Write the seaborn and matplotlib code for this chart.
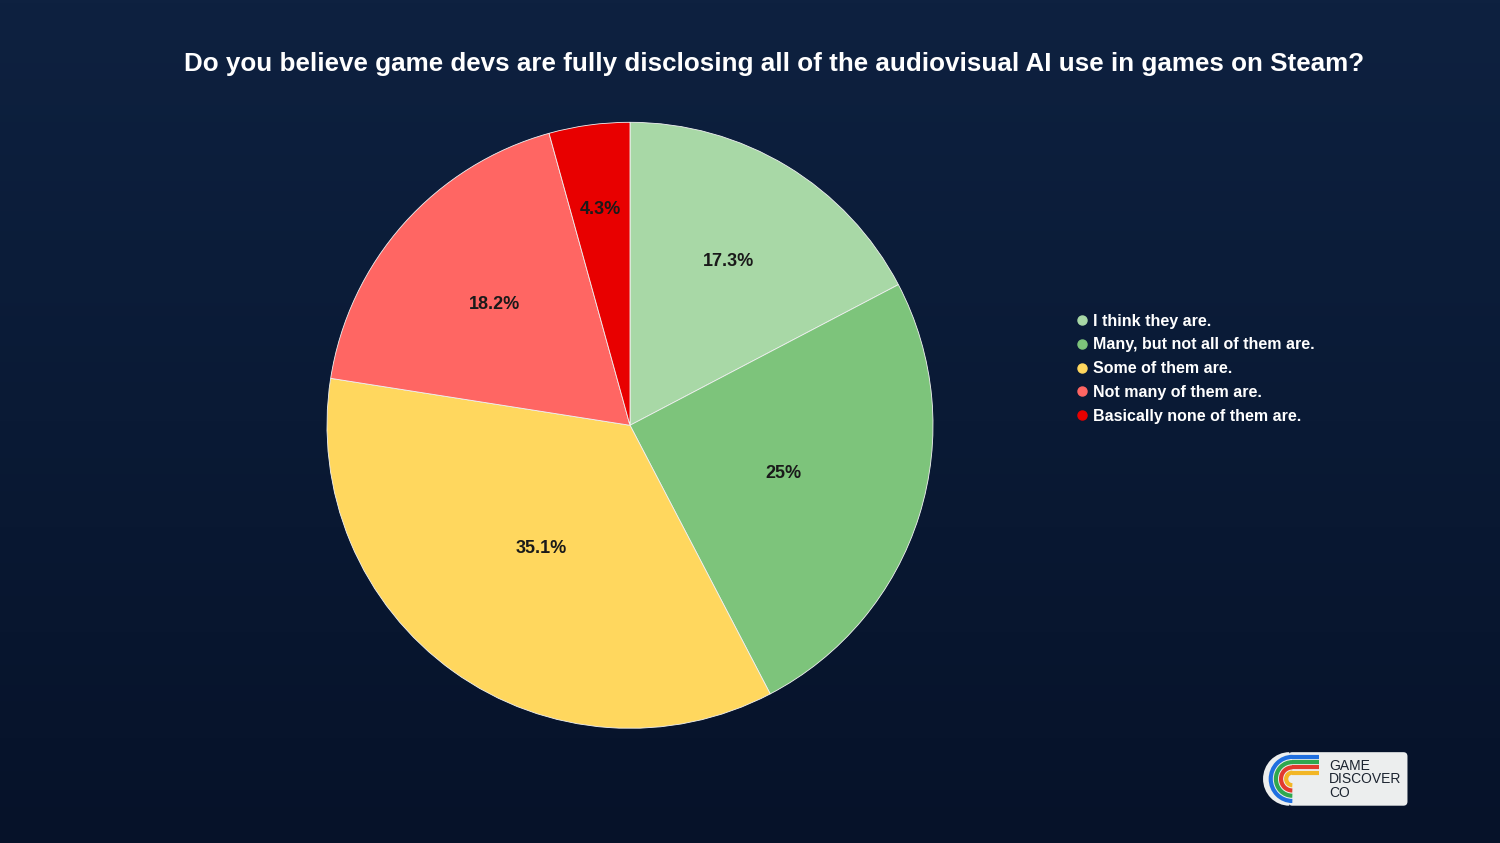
import numpy as np
import matplotlib
matplotlib.use('Agg')
import matplotlib.pyplot as plt
import seaborn as sns
from matplotlib.lines import Line2D
from matplotlib.patches import FancyBboxPatch, Arc, Wedge

sns.set_theme(style='white')
plt.rcParams['font.family'] = ['Liberation Sans', 'DejaVu Sans']

# data
answers = ['I think they are.', 'Many, but not all of them are.', 'Some of them are.',
           'Not many of them are.', 'Basically none of them are.']
shares = [17.3, 25, 35.1, 18.2, 4.3]
colors = ['#a8d8a6', '#7dc47b', '#ffd75e', '#ff6663', '#e80000']
label_dist = [0.63, 0.53, 0.5, 0.6, 0.72]
title = 'Do you believe game devs are fully disclosing all of the audiovisual AI use in games on Steam?'

fig = plt.figure(figsize=(15, 8.43), dpi=100)

# background gradient
bg = fig.add_axes([0, 0, 1, 1])
grad = np.linspace(0, 1, 256).reshape(-1, 1)
cmap = matplotlib.colors.LinearSegmentedColormap.from_list('bg', ['#0e2140', '#0a1a35', '#061229'])
bg.imshow(grad, aspect='auto', cmap=cmap, extent=[0, 1, 0, 1])
bg.set_axis_off()

fig.text(0.516, 0.924, title, color='white', fontsize=18.7, fontweight='bold',
         ha='center', va='center')

ax = fig.add_axes([0.218, 0.136, 0.404, 0.719])
wedges, _ = ax.pie(shares, colors=colors, startangle=90, counterclock=False,
                   wedgeprops=dict(edgecolor='#f2f2f2', linewidth=0.6))
for w, v, d in zip(wedges, shares, label_dist):
    ang = np.deg2rad((w.theta1 + w.theta2) / 2)
    txt = f'{v:g}%'
    ax.text(d * np.cos(ang), d * np.sin(ang), txt, ha='center', va='center',
            fontsize=13, fontweight='bold', color='#1a1a1a')
ax.set_xlim(-1, 1)
ax.set_ylim(-1, 1)
ax.set_aspect('equal')

handles = [Line2D([], [], marker='o', linestyle='', markersize=6.5, markerfacecolor=c,
                  markeredgecolor=c) for c in colors]
leg = fig.legend(handles, answers, loc='upper left', bbox_to_anchor=(0.7055, 0.645),
                 frameon=False, handletextpad=0.05, labelspacing=0.55, handlelength=1.2,
                 prop=dict(size=11.5, weight='bold'))
for t in leg.get_texts():
    t.set_color('white')

# logo
lg = fig.add_axes([0.841, 0.043, 0.098, 0.066])
lg.set_xlim(0, 143)
lg.set_ylim(0, 53)
lg.set_axis_off()
lg.add_patch(Wedge((27, 26.5), 25.5, 90, 270, facecolor='#eceeee', edgecolor='none'))
lg.add_patch(FancyBboxPatch((26, 1), 116, 51, boxstyle='round,pad=0,rounding_size=4',
                            facecolor='#eceeee', edgecolor='none'))
for r, c in zip([21, 16, 11, 6], ['#1f6fe0', '#2fa84f', '#e23b2e', '#f2b625']):
    lg.add_patch(Arc((30, 26.5), 2 * r, 2 * r, theta1=90, theta2=270, color=c, lw=3))
    lg.plot([30, 56], [26.5 + r, 26.5 + r], color=c, lw=3, solid_capstyle='butt')
lg.text(66, 26, 'GAME\nDISCOVER\nCO', fontsize=10, color='#1c2430', va='center', ha='left',
        linespacing=0.95, fontweight='medium')

fig.savefig('out.png', dpi=100)
